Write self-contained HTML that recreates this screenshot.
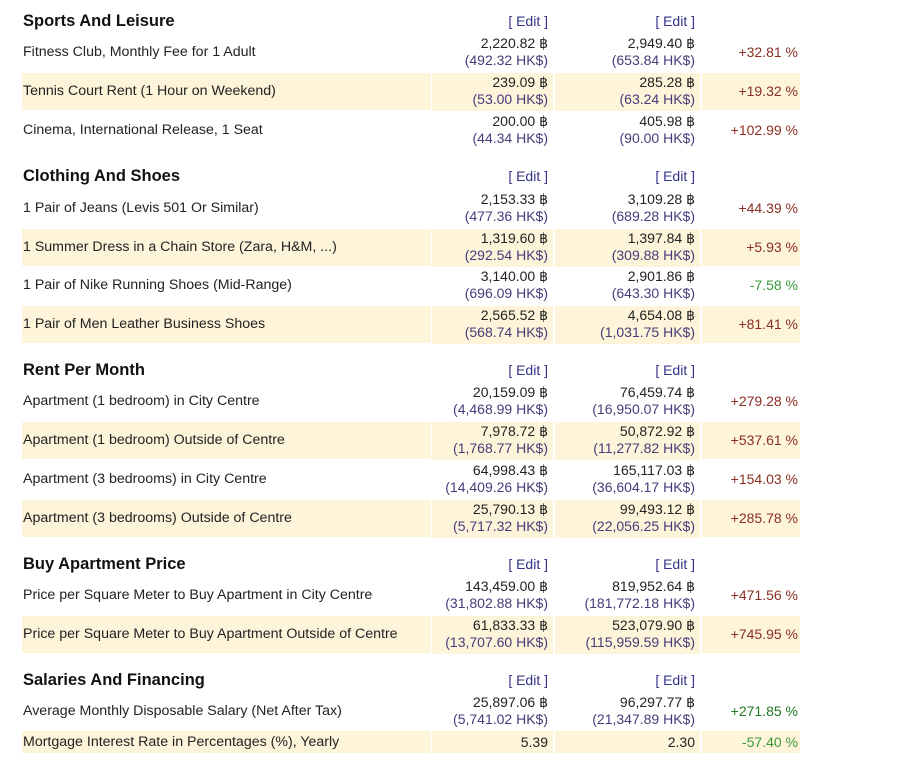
<!DOCTYPE html>
<html><head><meta charset="utf-8">
<style>
body{margin:0;width:920px;height:768px;background:#fff;font-family:"Liberation Sans",Arial,sans-serif;font-size:14px;color:#222;position:relative;overflow:hidden}
.r{position:absolute;left:0;width:920px;height:37px}
.r div{position:absolute;top:0;height:100%}
.a .l,.a .c1,.a .c2,.a .c3{background:#fdf4da}
.l{left:22px;width:408px;line-height:37px;padding-left:1px;font-size:14.2px}
.c1{left:432px;width:116px;text-align:right;padding-right:5px;line-height:17px;padding-top:1px;box-sizing:content-box}
.c2{left:555px;width:140px;text-align:right;padding-right:5px;line-height:17px;padding-top:1px}
.c3{left:702px;width:96px;text-align:right;padding-right:2px;line-height:37px}
.h .l{font-weight:bold;font-size:16.5px;color:#111}
.h .c1,.h .c2{line-height:37px;padding-top:0}
.e{color:#333388}
.hk{color:#4a3a7a}
.p{color:#8a2e22}
.g{color:#3a9a3a}
.gd{color:#227a22}
.s .c1,.s .c2,.s .c3,.s .l{line-height:22px;padding-top:0}
</style></head><body>

<div class="r h" style="top:3px"><div class="l">Sports And Leisure</div><div class="c1 e">[ Edit ]</div><div class="c2 e">[ Edit ]</div></div>
<div class="r" style="top:34px"><div class="l">Fitness Club, Monthly Fee for 1 Adult</div><div class="c1">2,220.82 ฿<br><span class="hk">(492.32 HK$)</span></div><div class="c2">2,949.40 ฿<br><span class="hk">(653.84 HK$)</span></div><div class="c3 p">+32.81 %</div></div>
<div class="r a" style="top:73px"><div class="l">Tennis Court Rent (1 Hour on Weekend)</div><div class="c1">239.09 ฿<br><span class="hk">(53.00 HK$)</span></div><div class="c2">285.28 ฿<br><span class="hk">(63.24 HK$)</span></div><div class="c3 p">+19.32 %</div></div>
<div class="r" style="top:112px"><div class="l">Cinema, International Release, 1 Seat</div><div class="c1">200.00 ฿<br><span class="hk">(44.34 HK$)</span></div><div class="c2">405.98 ฿<br><span class="hk">(90.00 HK$)</span></div><div class="c3 p">+102.99 %</div></div>

<div class="r h" style="top:158px"><div class="l">Clothing And Shoes</div><div class="c1 e">[ Edit ]</div><div class="c2 e">[ Edit ]</div></div>
<div class="r" style="top:190px"><div class="l">1 Pair of Jeans (Levis 501 Or Similar)</div><div class="c1">2,153.33 ฿<br><span class="hk">(477.36 HK$)</span></div><div class="c2">3,109.28 ฿<br><span class="hk">(689.28 HK$)</span></div><div class="c3 p">+44.39 %</div></div>
<div class="r a" style="top:229px"><div class="l">1 Summer Dress in a Chain Store (Zara, H&amp;M, ...)</div><div class="c1">1,319.60 ฿<br><span class="hk">(292.54 HK$)</span></div><div class="c2">1,397.84 ฿<br><span class="hk">(309.88 HK$)</span></div><div class="c3 p">+5.93 %</div></div>
<div class="r" style="top:267px"><div class="l">1 Pair of Nike Running Shoes (Mid-Range)</div><div class="c1">3,140.00 ฿<br><span class="hk">(696.09 HK$)</span></div><div class="c2">2,901.86 ฿<br><span class="hk">(643.30 HK$)</span></div><div class="c3 g">-7.58 %</div></div>
<div class="r a" style="top:306px"><div class="l">1 Pair of Men Leather Business Shoes</div><div class="c1">2,565.52 ฿<br><span class="hk">(568.74 HK$)</span></div><div class="c2">4,654.08 ฿<br><span class="hk">(1,031.75 HK$)</span></div><div class="c3 p">+81.41 %</div></div>

<div class="r h" style="top:352px"><div class="l">Rent Per Month</div><div class="c1 e">[ Edit ]</div><div class="c2 e">[ Edit ]</div></div>
<div class="r" style="top:383px"><div class="l">Apartment (1 bedroom) in City Centre</div><div class="c1">20,159.09 ฿<br><span class="hk">(4,468.99 HK$)</span></div><div class="c2">76,459.74 ฿<br><span class="hk">(16,950.07 HK$)</span></div><div class="c3 p">+279.28 %</div></div>
<div class="r a" style="top:422px"><div class="l">Apartment (1 bedroom) Outside of Centre</div><div class="c1">7,978.72 ฿<br><span class="hk">(1,768.77 HK$)</span></div><div class="c2">50,872.92 ฿<br><span class="hk">(11,277.82 HK$)</span></div><div class="c3 p">+537.61 %</div></div>
<div class="r" style="top:461px"><div class="l">Apartment (3 bedrooms) in City Centre</div><div class="c1">64,998.43 ฿<br><span class="hk">(14,409.26 HK$)</span></div><div class="c2">165,117.03 ฿<br><span class="hk">(36,604.17 HK$)</span></div><div class="c3 p">+154.03 %</div></div>
<div class="r a" style="top:500px"><div class="l">Apartment (3 bedrooms) Outside of Centre</div><div class="c1">25,790.13 ฿<br><span class="hk">(5,717.32 HK$)</span></div><div class="c2">99,493.12 ฿<br><span class="hk">(22,056.25 HK$)</span></div><div class="c3 p">+285.78 %</div></div>

<div class="r h" style="top:546px"><div class="l">Buy Apartment Price</div><div class="c1 e">[ Edit ]</div><div class="c2 e">[ Edit ]</div></div>
<div class="r" style="top:577px"><div class="l">Price per Square Meter to Buy Apartment in City Centre</div><div class="c1">143,459.00 ฿<br><span class="hk">(31,802.88 HK$)</span></div><div class="c2">819,952.64 ฿<br><span class="hk">(181,772.18 HK$)</span></div><div class="c3 p">+471.56 %</div></div>
<div class="r a" style="top:616px"><div class="l">Price per Square Meter to Buy Apartment Outside of Centre</div><div class="c1">61,833.33 ฿<br><span class="hk">(13,707.60 HK$)</span></div><div class="c2">523,079.90 ฿<br><span class="hk">(115,959.59 HK$)</span></div><div class="c3 p">+745.95 %</div></div>

<div class="r h" style="top:662px"><div class="l">Salaries And Financing</div><div class="c1 e">[ Edit ]</div><div class="c2 e">[ Edit ]</div></div>
<div class="r" style="top:693px"><div class="l">Average Monthly Disposable Salary (Net After Tax)</div><div class="c1">25,897.06 ฿<br><span class="hk">(5,741.02 HK$)</span></div><div class="c2">96,297.77 ฿<br><span class="hk">(21,347.89 HK$)</span></div><div class="c3 gd">+271.85 %</div></div>
<div class="r a s" style="top:731px;height:22px"><div class="l">Mortgage Interest Rate in Percentages (%), Yearly</div><div class="c1">5.39</div><div class="c2">2.30</div><div class="c3 g">-57.40 %</div></div>

</body></html>
